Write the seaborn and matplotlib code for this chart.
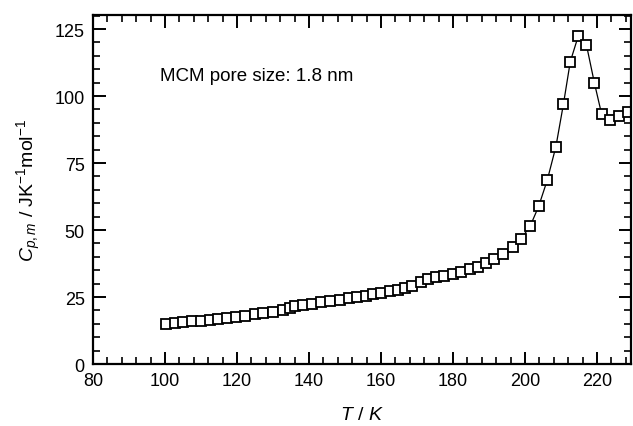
import matplotlib
matplotlib.use("Agg")
import matplotlib.pyplot as plt
from matplotlib.ticker import MultipleLocator
import seaborn as sns
import pandas as pd

temperature = [100.2, 102.7, 105.0, 107.4, 109.9, 112.5, 114.8, 117.3, 119.6, 122.2,
               125.0, 127.2, 130.0, 132.8, 134.6, 136.0, 138.3, 140.7, 143.2, 145.9,
               148.5, 151.0, 153.4, 155.9, 157.7, 160.1, 162.6, 164.7, 166.7, 168.7,
               171.0, 173.0, 175.3, 177.6, 179.9, 182.3, 184.6, 186.9, 189.2, 191.5,
               193.8, 196.6, 198.9, 201.5, 203.8, 206.2, 208.6, 210.7, 212.6, 214.8,
               217.1, 219.3, 221.3, 223.6, 226.0, 228.5]
heat_capacity = [14.9, 15.4, 15.7, 15.9, 16.2, 16.6, 17.0, 17.3, 17.7, 18.1,
                 18.7, 19.1, 19.6, 20.3, 20.9, 21.6, 22.0, 22.6, 23.1, 23.6,
                 24.0, 24.5, 24.9, 25.5, 26.1, 26.7, 27.1, 27.7, 28.5, 29.3,
                 30.6, 31.9, 32.6, 33.0, 33.6, 34.2, 35.3, 36.4, 37.7, 39.2,
                 41.0, 43.5, 46.6, 51.6, 58.8, 68.6, 81.1, 97.0, 112.8, 122.3,
                 119.0, 104.9, 93.3, 91.2, 92.4, 94.1]
annotation = "MCM pore size: 1.8 nm"

df = pd.DataFrame({"T": temperature, "C": heat_capacity})

sns.set_style("ticks")
plt.rcParams["font.family"] = ["Liberation Sans", "DejaVu Sans"]
plt.rcParams["mathtext.fontset"] = "custom"
plt.rcParams["mathtext.rm"] = "Liberation Sans"
plt.rcParams["mathtext.it"] = "Liberation Sans:italic"
plt.rcParams["text.color"] = "black"
plt.rcParams["axes.labelcolor"] = "black"

fig = plt.figure(figsize=(6.33, 4.27), dpi=100)
ax = fig.add_axes([0.147, 0.145, 0.850, 0.818])

sns.lineplot(data=df, x="T", y="C", ax=ax, color="black", linewidth=0.9,
             sort=False, marker="s", markersize=7.5, markerfacecolor="white",
             markeredgecolor="black", markeredgewidth=1.3, clip_on=True)

ax.set_xlim(80, 229.5)
ax.set_ylim(0, 130.3)
ax.xaxis.set_major_locator(MultipleLocator(20))
ax.xaxis.set_minor_locator(MultipleLocator(4))
ax.yaxis.set_major_locator(MultipleLocator(25))
ax.yaxis.set_minor_locator(MultipleLocator(5))
ax.tick_params(which="both", direction="in", top=True, right=True,
               labelsize=13, colors="black")
ax.tick_params(which="major", length=9, width=1.4, pad=6)
ax.tick_params(which="minor", length=5, width=1.2)
for s in ax.spines.values():
    s.set_visible(True)
    s.set_linewidth(1.6)
    s.set_color("black")

ax.set_xlabel(r"$T$ / $K$", fontsize=14, labelpad=12)
ax.set_ylabel(r"$C_{p,m}$ / JK$^{-1}$mol$^{-1}$", fontsize=14, labelpad=8)

ax.text(98.5, 107.5, annotation, fontsize=13.5, ha="left", va="center",
        color="black")

fig.savefig("out.png", dpi=100)
